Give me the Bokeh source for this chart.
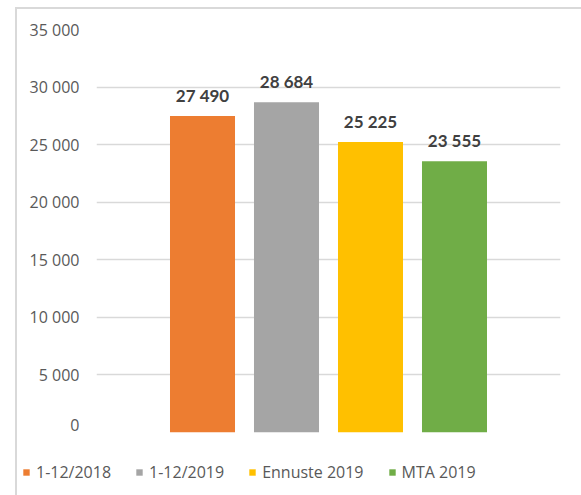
from bokeh.plotting import figure
from bokeh.layouts import column
from bokeh.core.properties import value
from bokeh.models import ColumnDataSource, FactorRange, Range1d, FixedTicker, CustomJSTickFormatter, LabelSet, Legend, LegendItem
from bokeh.embed import file_html
from bokeh.resources import INLINE

# data
series = ["1-12/2018", "1-12/2019", "Ennuste 2019", "MTA 2019"]
values = [27490, 28684, 25225, 23555]
colors = ["#ED7D31", "#A5A5A5", "#FFC000", "#70AD47"]
y_ticks = [0, 5000, 10000, 15000, 20000, 25000, 30000, 35000]

labels = [f"{v:,}".replace(",", " ") for v in values]
src = ColumnDataSource(dict(x=series, top=values, color=colors, txt=labels))

FONT = "Open Sans"

# main chart
p = figure(
    width=564, height=426,
    x_range=FactorRange(factors=series, range_padding=0.381, range_padding_units="percent"),
    y_range=Range1d(0, 35000),
    output_backend="svg", toolbar_location=None,
    min_border_left=79, min_border_right=21, min_border_top=20, min_border_bottom=3,
)
p.frame_align = False
r = p.vbar(x="x", top="top", width=0.774, color="color", source=src, line_color=None)

p.add_layout(LabelSet(x="x", y="top", text="txt", source=src, y_offset=14,
                      text_align="center", text_baseline="alphabetic",
                      text_font=value("Lato"), text_font_style="bold", text_font_size="17px",
                      text_color="#404040"))

p.xaxis.visible = False
p.xgrid.grid_line_color = None
p.yaxis.ticker = FixedTicker(ticks=y_ticks)
p.ygrid.ticker = FixedTicker(ticks=y_ticks)
p.yaxis.formatter = CustomJSTickFormatter(code="return tick.toString().replace(/\\B(?=(\\d{3})+(?!\\d))/g, ' ');")
p.yaxis.axis_line_color = None
p.yaxis.major_tick_line_color = None
p.yaxis.minor_tick_line_color = None
p.yaxis.major_tick_out = 0
p.yaxis.major_tick_in = 0
p.yaxis.major_label_standoff = 17
p.yaxis.major_label_text_font = FONT
p.yaxis.major_label_text_font_size = "16px"
p.yaxis.major_label_text_color = "#595959"
p.ygrid.grid_line_color = "#d9d9d9"
p.ygrid.grid_line_width = 1.5
p.outline_line_color = None

# legend strip
q = figure(
    width=564, height=60,
    x_range=FactorRange(factors=series), y_range=Range1d(0, 1),
    output_backend="svg", toolbar_location=None,
    min_border_left=0, min_border_right=0, min_border_top=0, min_border_bottom=0,
)
q.frame_align = False
q.axis.visible = False
q.grid.visible = False
q.outline_line_color = None
rq = q.vbar(x="x", top="top", width=0.774, color="color", source=src, line_color=None, visible=False)
items = [LegendItem(label=s, renderers=[rq], index=i) for i, s in enumerate(series)]
legend = Legend(items=items, orientation="horizontal", location=(5, 12),
                glyph_width=8, glyph_height=8, label_standoff=6, spacing=24,
                padding=0, margin=0, background_fill_alpha=0, border_line_alpha=0,
                label_text_font=FONT, label_text_font_size="16px", label_text_color="#595959")
q.add_layout(legend)

layout = column(p, q, spacing=0)
layout.styles = {"border-left": "2px solid #d9d9d9", "border-top": "2px solid #d9d9d9",
                 "margin-left": "15px", "margin-top": "7px"}

open("out.html", "w").write(file_html(layout, INLINE))
